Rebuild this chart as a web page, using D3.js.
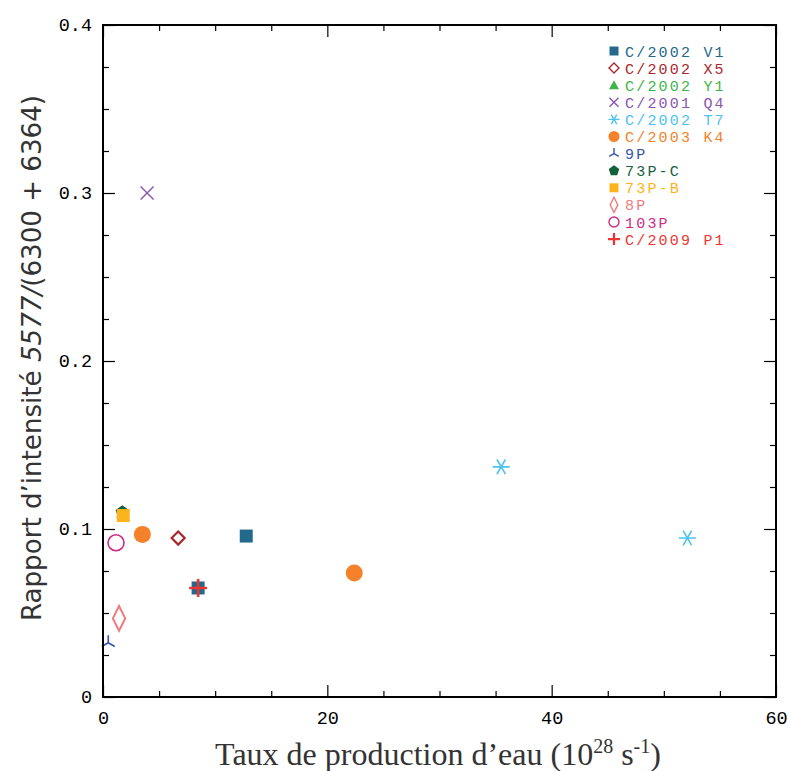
<!DOCTYPE html>
<html>
<head>
<meta charset="utf-8">
<script src="https://cdn.jsdelivr.net/npm/d3@7"></script>
<style>
  html, body { margin: 0; padding: 0; background: #fff; }
  svg { display: block; }
</style>
</head>
<body>
<svg id="chart" width="791" height="771"></svg>
<script>
// Comet names, marker shapes and colours (legend order)
const comets  = ["C/2002 V1", "C/2002 X5", "C/2002 Y1", "C/2001 Q4", "C/2002 T7", "C/2003 K4",
                 "9P", "73P-C", "73P-B", "8P", "103P", "C/2009 P1"];
const shapes  = ["fsquare", "diamond", "triangle", "cross", "asterisk", "fcircle",
                 "tripod", "pentagon", "fsquare", "tdiamond", "ocircle", "plus"];
const colors  = ["#22698c", "#a8282c", "#3db54a", "#8b55b0", "#4cc3ee", "#f5822a",
                 "#3455a8", "#14603a", "#fbb41c", "#f07a7c", "#cc2b84", "#ee3432"];

// Observations: comet index, water production rate (1e28 s^-1), green/red intensity ratio
const obsComet = [2, 7, 8, 10, 5, 1, 0, 0, 11, 3, 4, 4, 5, 6, 9];
const obsQ     = [1.75, 1.72, 1.81, 1.16, 3.51, 6.70, 12.77, 8.48, 8.48, 3.93, 35.5, 52.1, 22.4, 0.47, 1.43];
const obsRatio = [0.110, 0.110, 0.108, 0.0918, 0.0968, 0.0946, 0.0958, 0.0649, 0.0649, 0.300, 0.137, 0.0946, 0.0738, 0.0323, 0.0468];

const xTicks = [0, 20, 40, 60];
const yTicks = [0, 0.1, 0.2, 0.3, 0.4];

const svg = d3.select("#chart");
const L = 103, R = 776, T = 25, B = 697;
const x = d3.scaleLinear().domain([0, 60]).range([L, R]);
const y = d3.scaleLinear().domain([0, 0.4]).range([B, T]);

const monoFont = "'Liberation Mono', 'DejaVu Sans Mono', monospace";
const labelSize = 18.5;

// Marker path builder centred on (0,0); s = nominal size
function markerPath(kind, s) {
  const p = d3.path();
  const h = s / 2;
  switch (kind) {
    case "fsquare":
      p.rect(-h, -h, s, s); break;
    case "diamond":
      p.moveTo(0, -h); p.lineTo(h, 0); p.lineTo(0, h); p.lineTo(-h, 0); p.closePath(); break;
    case "tdiamond":
      p.moveTo(0, -h * 1.9); p.lineTo(h * 0.95, 0); p.lineTo(0, h * 1.9); p.lineTo(-h * 0.95, 0); p.closePath(); break;
    case "triangle":
      p.moveTo(0, -h); p.lineTo(h, h * 0.8); p.lineTo(-h, h * 0.8); p.closePath(); break;
    case "cross":
      p.moveTo(-h, -h); p.lineTo(h, h); p.moveTo(h, -h); p.lineTo(-h, h); break;
    case "plus":
      p.moveTo(-h, 0); p.lineTo(h, 0); p.moveTo(0, -h); p.lineTo(0, h); break;
    case "asterisk":
      p.moveTo(-h, 0); p.lineTo(h, 0);
      for (const a of [60, 120]) {
        const r = a * Math.PI / 180;
        p.moveTo(-h * Math.cos(r), -h * Math.sin(r)); p.lineTo(h * Math.cos(r), h * Math.sin(r));
      }
      break;
    case "tripod":
      p.moveTo(0, 0); p.lineTo(0, -h);
      p.moveTo(0, 0); p.lineTo(h * 0.87, h * 0.5);
      p.moveTo(0, 0); p.lineTo(-h * 0.87, h * 0.5);
      break;
    case "pentagon":
      for (let i = 0; i < 5; i++) {
        const a = -Math.PI / 2 + i * 2 * Math.PI / 5;
        const px = h * Math.cos(a), py = h * Math.sin(a);
        if (i === 0) p.moveTo(px, py); else p.lineTo(px, py);
      }
      p.closePath(); break;
    case "fcircle":
    case "ocircle":
      p.arc(0, 0, h, 0, 2 * Math.PI); p.closePath(); break;
  }
  return p.toString();
}
const filled = new Set(["fsquare", "triangle", "pentagon", "fcircle"]);

function drawMarker(g, kind, color, s, sw) {
  g.append("path")
    .attr("d", markerPath(kind, s))
    .attr("fill", filled.has(kind) ? color : "none")
    .attr("stroke", filled.has(kind) ? "none" : color)
    .attr("stroke-width", sw)
    .attr("stroke-linejoin", "miter");
}

// Plot-size marker dimensions per shape
const plotSize = { fsquare: 13, diamond: 13, tdiamond: 13, triangle: 13, cross: 13, plus: 18,
                   asterisk: 17, tripod: 15, pentagon: 14, fcircle: 17, ocircle: 16 };
const plotStroke = { diamond: 2.2, tdiamond: 2, cross: 1.4, plus: 2.6, asterisk: 1.6, tripod: 1.6, ocircle: 1.6 };

// Data points
const pts = svg.append("g");
obsComet.forEach((c, i) => {
  const g = pts.append("g").attr("transform", `translate(${x(obsQ[i])},${y(obsRatio[i])})`);
  const k = shapes[c];
  drawMarker(g, k, colors[c], plotSize[k], plotStroke[k] || 1.5);
});

// Frame
svg.append("rect")
  .attr("x", L).attr("y", T).attr("width", R - L).attr("height", B - T)
  .attr("fill", "none").attr("stroke", "#000").attr("stroke-width", 2);

// Inward ticks on all four sides
const majLen = 12, minLen = 6;
const xMinor = d3.range(0, 61, 5).filter(v => v % 20 !== 0);
const yMinor = d3.range(0, 17).map(i => i * 0.025).filter(v => Math.abs(v * 10 - Math.round(v * 10)) > 1e-6);

function axisG(axis) {
  const g = svg.append("g").call(axis);
  g.select(".domain").remove();
  g.selectAll(".tick line").attr("stroke", "#000").attr("stroke-width", 1.2);
  return g;
}

const axBottom = axisG(d3.axisBottom(x).tickValues(xTicks).tickSize(-majLen).tickPadding(14).tickFormat(d3.format("d")));
axBottom.attr("transform", `translate(0,${B})`);
axBottom.selectAll("text").attr("font-family", monoFont).attr("font-size", labelSize).attr("fill", "#000");

const axTop = axisG(d3.axisTop(x).tickValues(xTicks).tickSize(-majLen).tickFormat(""));
axTop.attr("transform", `translate(0,${T})`);

const axLeft = axisG(d3.axisLeft(y).tickValues(yTicks).tickSize(-majLen).tickPadding(11)
  .tickFormat(d => d === 0 ? "0" : d3.format(".1f")(d)));
axLeft.attr("transform", `translate(${L},0)`);
axLeft.selectAll("text").attr("font-family", monoFont).attr("font-size", labelSize).attr("fill", "#000");

const axRight = axisG(d3.axisRight(y).tickValues(yTicks).tickSize(-majLen).tickFormat(""));
axRight.attr("transform", `translate(${R},0)`);

[[d3.axisBottom(x), B], [d3.axisTop(x), T]].forEach(([ax, pos]) => {
  axisG(ax.tickValues(xMinor).tickSize(-minLen).tickFormat("")).attr("transform", `translate(0,${pos})`);
});
[[d3.axisLeft(y), L], [d3.axisRight(y), R]].forEach(([ax, pos]) => {
  axisG(ax.tickValues(yMinor).tickSize(-minLen).tickFormat("")).attr("transform", `translate(${pos},0)`);
});

// Legend
const leg = svg.append("g").attr("transform", "translate(614,51)");
const legSize = { fsquare: 9, diamond: 10, tdiamond: 8, triangle: 10, cross: 9, plus: 12, asterisk: 11,
                  tripod: 11, pentagon: 11, fcircle: 11, ocircle: 10 };
comets.forEach((name, i) => {
  const row = leg.append("g").attr("transform", `translate(0,${i * 17.1})`);
  const k = shapes[i];
  drawMarker(row.append("g"), k, colors[i], legSize[k], k === "plus" ? 2.2 : 1.4);
  row.append("text")
    .attr("x", 11).attr("y", 5.5)
    .attr("font-family", monoFont).attr("font-size", 15)
    .attr("letter-spacing", 2.2)
    .attr("fill", colors[i])
    .text(name);
});

// Axis titles
const xt = svg.append("text")
  .attr("x", 438).attr("y", 765)
  .attr("text-anchor", "middle")
  .attr("font-family", "'Liberation Serif', 'DejaVu Serif', serif")
  .attr("font-size", 32).attr("fill", "#333");
xt.append("tspan").text("Taux de production d’eau (10");
xt.append("tspan").attr("dy", -12).attr("font-size", 20).text("28");
xt.append("tspan").attr("dy", 12).text(" s");
xt.append("tspan").attr("dy", -12).attr("font-size", 20).text("-1");
xt.append("tspan").attr("dy", 12).text(")");

const yt = svg.append("text")
  .attr("transform", "translate(41,358) rotate(-90)")
  .attr("text-anchor", "middle")
  .attr("font-family", "'Liberation Sans Narrow', 'DejaVu Sans Condensed', 'Roboto Condensed', sans-serif")
  .attr("font-stretch", "condensed")
  .attr("font-size", 26).attr("fill", "#333")
  .attr("textLength", 526).attr("lengthAdjust", "spacingAndGlyphs");
yt.append("tspan").text("Rapport d’intensité ");
yt.append("tspan").attr("font-style", "italic").text("5577/");
yt.append("tspan").text("(6300 + 6364)");
</script>
</body>
</html>
